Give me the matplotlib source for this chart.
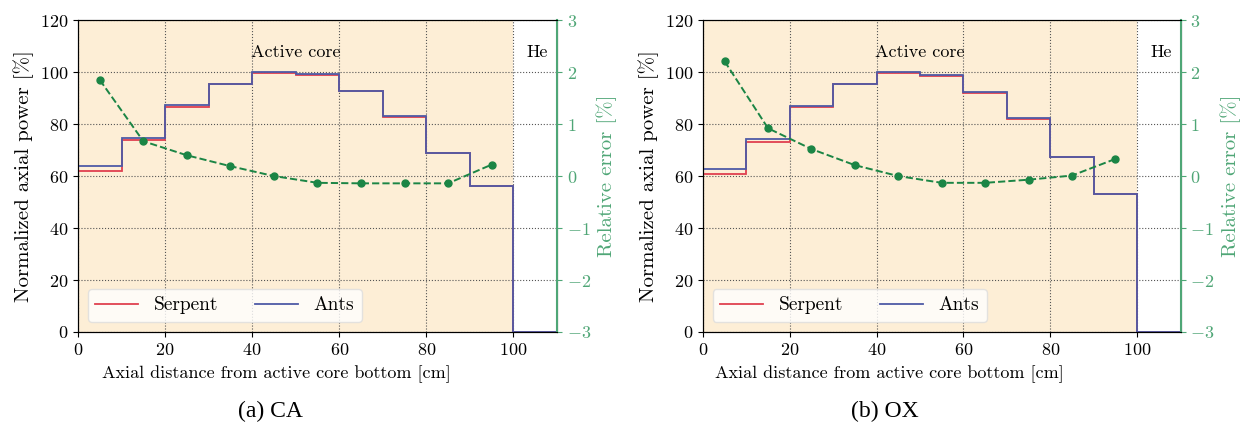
import numpy as np
import matplotlib
matplotlib.use("Agg")
import matplotlib.pyplot as plt

plt.rcParams['font.family'] = 'cmr10'
plt.rcParams['mathtext.fontset'] = 'cm'
plt.rcParams['axes.formatter.use_mathtext'] = True
plt.rcParams['axes.unicode_minus'] = True

# bin edges [cm], last bin (100-110) is the He region
edges = [0, 10, 20, 30, 40, 50, 60, 70, 80, 90, 100, 110]
mid = [5, 15, 25, 35, 45, 55, 65, 75, 85, 95]

# CA
ca_serpent = [62.0, 73.8, 86.6, 95.4, 99.8, 99.0, 92.8, 82.9, 68.8, 56.0, 0]
ca_ants = [63.9, 74.8, 87.3, 95.6, 100.0, 99.2, 92.9, 83.0, 69.0, 56.2, 0]
ca_err = [1.85, 0.67, 0.40, 0.19, 0.0, -0.13, -0.14, -0.14, -0.14, 0.22]

# OX
ox_serpent = [60.7, 73.3, 86.6, 95.4, 99.8, 98.5, 92.0, 82.0, 67.3, 53.0, 0]
ox_ants = [62.6, 74.3, 87.1, 95.6, 100.0, 98.8, 92.2, 82.2, 67.5, 53.2, 0]
ox_err = [2.21, 0.92, 0.52, 0.21, 0.0, -0.13, -0.13, -0.07, 0.01, 0.33]

RED = '#e0404f'
BLUE = '#4e5aa6'
GREEN = '#1b8545'
SPINE_GREEN = '#4fa676'
CORE = '#fdeed6'

fig = plt.figure(figsize=(12.44, 4.26), dpi=100)

panels = [
    ([0.0627, 0.2207, 0.385, 0.732], ca_serpent, ca_ants, ca_err, 0.415, '(a) CA', 0.217),
    ([0.565, 0.2207, 0.384, 0.732], ox_serpent, ox_ants, ox_err, 0.391, '(b) OX', 0.711),
]

for rect, serp, ants, err, xlab_x, cap, cap_x in panels:
    ax = fig.add_axes(rect)
    ax.axvspan(0, 100, color=CORE, zorder=0, lw=0)
    ax.stairs(serp, edges, color=RED, lw=1.3, label='Serpent', zorder=3)
    ax.stairs(ants, edges, color=BLUE, lw=1.3, label='Ants', zorder=3)
    ax.set_xlim(0, 110)
    ax.set_ylim(0, 120)
    ax.set_xticks(np.arange(0, 101, 20))
    ax.set_yticks(np.arange(0, 121, 20))
    ax.grid(True, color='#555555', ls=':', lw=0.8, zorder=1)
    ax.set_axisbelow(True)
    ax.tick_params(labelsize=13)
    ax.set_ylabel('Normalized axial power [%]', fontsize=15)
    ax.set_xlabel('Axial distance from active core bottom [cm]', fontsize=13)
    ax.xaxis.set_label_coords(xlab_x, -0.108)
    ax.text(50, 107.5, 'Active core', ha='center', va='center', fontsize=13)
    ax.text(105.5, 107.5, 'He', ha='center', va='center', fontsize=13)
    ax.legend(loc='lower left', ncol=2, fontsize=14, columnspacing=1.9,
              handlelength=2.2, framealpha=0.8, edgecolor='#dddddd',
              fancybox=True)

    ax2 = ax.twinx()
    ax2.plot(mid, err, color=GREEN, ls='--', marker='o', ms=5, lw=1.4)
    ax2.set_ylim(-3, 3)
    ax2.set_yticks(np.arange(-3, 4, 1))
    ax2.spines['right'].set_color(SPINE_GREEN)
    ax2.spines['right'].set_linewidth(1.5)
    ax2.tick_params(axis='y', colors=SPINE_GREEN, labelsize=13)
    ax2.set_ylabel('Relative error [%]', color=SPINE_GREEN, fontsize=15)

    fig.text(cap_x, 0.033, cap, ha='center', va='center', fontsize=17,
             family='Liberation Serif')

fig.savefig('out.png', dpi=100)
